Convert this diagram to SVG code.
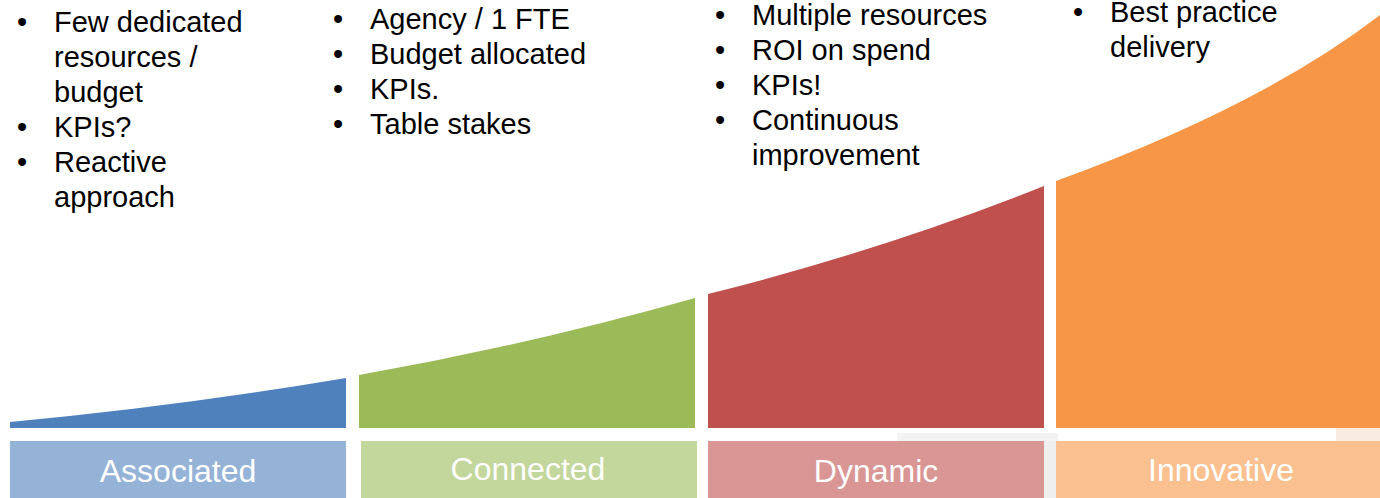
<svg xmlns="http://www.w3.org/2000/svg" width="1380" height="498" viewBox="0 0 1380 498">
<style>
.b{font-family:"Liberation Sans",Arial,sans-serif;font-size:29px;fill:#000}
.l{font-family:"Liberation Sans",Arial,sans-serif;font-size:32px;fill:#fff;text-anchor:middle}
</style>
<rect width="1380" height="498" fill="#fff"/>
<g id="artifacts">
<rect x="897" y="433" width="161" height="8" fill="#f3f3f3"/>
<rect x="1044" y="441" width="12" height="57" fill="#efefef"/>
<rect x="1336" y="428" width="44" height="13" fill="#f8ebe0"/>
</g>
<g id="associated">
<path d="M10,428 L10,422 Q180,406 346,378 L346,428 Z" fill="#4f81bd"/>
<rect x="10" y="441" width="336" height="57" fill="#95b3d7"/>
<text class="l" x="178" y="482">Associated</text>
<text class="b"><tspan x="17" y="32">•</tspan><tspan x="54" y="32">Few dedicated</tspan><tspan x="54" y="67">resources /</tspan><tspan x="54" y="102">budget</tspan><tspan x="17" y="137">•</tspan><tspan x="54" y="137">KPIs?</tspan><tspan x="17" y="172">•</tspan><tspan x="54" y="172">Reactive</tspan><tspan x="54" y="207">approach</tspan></text>
</g>
<g id="connected">
<path d="M359,428 L359,375 Q527,345.5 695,298 L695,428 Z" fill="#9bbb59"/>
<rect x="361" y="441" width="336" height="57" fill="#c3d69b"/>
<text class="l" x="528" y="480">Connected</text>
<text class="b"><tspan x="333" y="29">•</tspan><tspan x="370" y="29">Agency / 1 FTE</tspan><tspan x="333" y="64">•</tspan><tspan x="370" y="64">Budget allocated</tspan><tspan x="333" y="99">•</tspan><tspan x="370" y="99">KPIs.</tspan><tspan x="333" y="134">•</tspan><tspan x="370" y="134">Table stakes</tspan></text>
</g>
<g id="dynamic">
<path d="M708,428 L708,294 Q884,250 1044,186 L1044,428 Z" fill="#c0504d"/>
<rect x="708" y="441" width="336" height="57" fill="#d99694"/>
<text class="l" x="876" y="482">Dynamic</text>
<text class="b"><tspan x="715" y="25">•</tspan><tspan x="752" y="25">Multiple resources</tspan><tspan x="715" y="60">•</tspan><tspan x="752" y="60">ROI on spend</tspan><tspan x="715" y="95">•</tspan><tspan x="752" y="95">KPIs!</tspan><tspan x="715" y="130">•</tspan><tspan x="752" y="130">Continuous</tspan><tspan x="752" y="165">improvement</tspan></text>
</g>
<g id="innovative">
<path d="M1056,428 L1056,181 Q1262,106 1380,15 L1380,428 Z" fill="#f79646"/>
<rect x="1056" y="441" width="324" height="57" fill="#fac090"/>
<text class="l" x="1221" y="481">Innovative</text>
<text class="b"><tspan x="1073" y="22">•</tspan><tspan x="1110" y="22">Best practice</tspan><tspan x="1110" y="57">delivery</tspan></text>
</g>
<g id="connectors"></g>
</svg>
